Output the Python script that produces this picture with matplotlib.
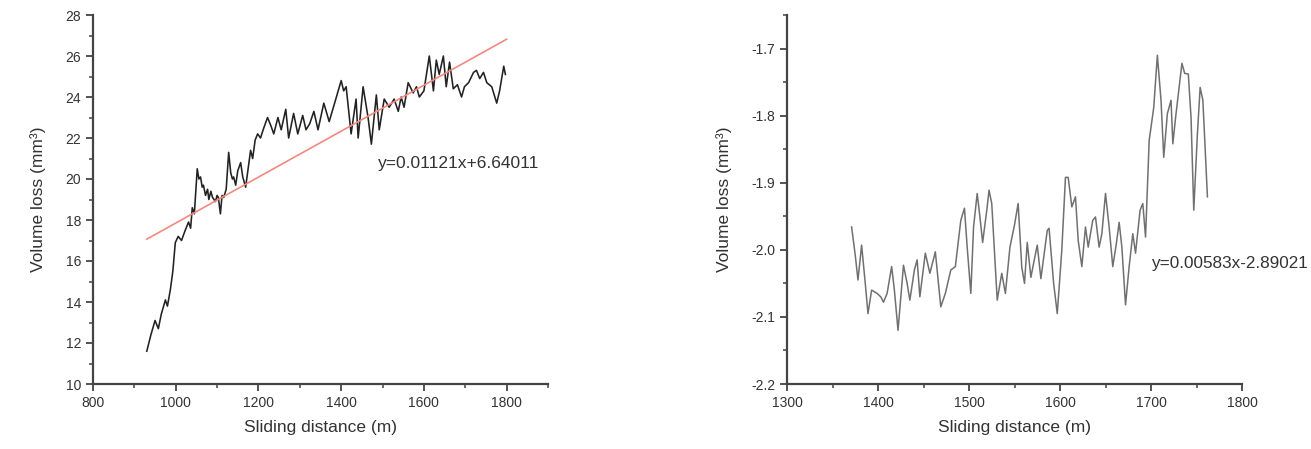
import matplotlib
matplotlib.use("Agg")
import matplotlib.pyplot as plt
from matplotlib.ticker import MultipleLocator
import numpy as np

plt.rcParams['font.family'] = ['Liberation Sans', 'DejaVu Sans']

# ---- Left panel data ----
left_x = [930, 940, 950, 958, 965, 975, 980, 987, 993, 999, 1006, 1014, 1023, 1031, 1036,
          1040, 1045, 1052, 1056, 1060, 1064, 1067, 1072, 1077, 1080, 1085, 1089, 1096, 1100,
          1103, 1108, 1112, 1116, 1122, 1128, 1133, 1137, 1140, 1145, 1150, 1157, 1162, 1169,
          1175, 1181, 1186, 1192, 1198, 1205, 1213, 1222, 1230, 1237, 1247, 1255, 1266, 1273,
          1285, 1295, 1307, 1315, 1324, 1334, 1344, 1358, 1371, 1387, 1400, 1406, 1412, 1424,
          1436, 1441, 1453, 1465, 1473, 1485, 1492, 1504, 1516, 1528, 1538, 1545, 1552, 1562,
          1574, 1582, 1589, 1600, 1613, 1623, 1630, 1637, 1647, 1654, 1662, 1671, 1681, 1691,
          1698, 1708, 1720, 1727, 1735, 1744, 1752, 1764, 1776, 1783, 1793, 1797]
left_y = [11.6, 12.4, 13.1, 12.7, 13.4, 14.1, 13.8, 14.6, 15.5, 16.9, 17.2, 17.0, 17.5, 17.9, 17.6,
          18.6, 18.3, 20.5, 20.0, 20.1, 19.6, 19.7, 19.2, 19.5, 19.0, 19.4, 19.1, 18.9, 19.2,
          19.1, 18.3, 19.2, 19.1, 19.5, 21.3, 20.3, 20.0, 20.1, 19.7, 20.4, 20.8, 20.1, 19.6,
          20.5, 21.4, 21.0, 21.9, 22.2, 22.0, 22.5, 23.0, 22.6, 22.2, 23.0, 22.4, 23.4, 22.0,
          23.2, 22.2, 23.1, 22.4, 22.7, 23.3, 22.4, 23.7, 22.8, 23.9, 24.8, 24.3, 24.5, 22.2,
          23.9, 22.0, 24.5, 23.0, 21.7, 24.1, 22.4, 23.9, 23.5, 23.9, 23.3, 24.0, 23.5, 24.7,
          24.2, 24.5, 24.0, 24.3, 26.0, 24.3, 25.8, 25.1, 26.0, 24.5, 25.7, 24.4, 24.6, 24.0,
          24.5, 24.7, 25.2, 25.3, 24.9, 25.2, 24.7, 24.5, 23.7, 24.3, 25.5, 25.1]
fit_slope = 0.01121
fit_intercept = 6.64011
fit_x = [930, 1800]
left_eq = "y=0.01121x+6.64011"

# ---- Right panel data ----
right_x = [1371, 1375, 1378, 1382, 1386, 1389, 1393, 1399, 1403, 1406, 1410, 1415, 1418, 1422,
           1428, 1432, 1435, 1440, 1443, 1446, 1452, 1457, 1463, 1469, 1474, 1480, 1485, 1491,
           1495, 1498, 1502, 1505, 1509, 1512, 1515, 1520, 1522, 1525, 1531, 1536, 1540, 1545,
           1550, 1554, 1558, 1561, 1564, 1568, 1571, 1575, 1579, 1586, 1588, 1593, 1597, 1602,
           1606, 1609, 1613, 1617, 1620, 1624, 1628, 1631, 1636, 1639, 1643, 1646, 1650, 1654,
           1658, 1662, 1665, 1668, 1672, 1676, 1680, 1683, 1688, 1691, 1694, 1698, 1703, 1707,
           1711, 1714, 1718, 1722, 1724, 1727, 1734, 1737, 1741, 1744, 1747, 1751, 1754, 1757,
           1762]
right_y = [-1.966, -2.008, -2.045, -1.993, -2.05, -2.095, -2.06, -2.065, -2.07, -2.078, -2.065,
           -2.025, -2.06, -2.12, -2.023, -2.05, -2.075, -2.03, -2.015, -2.07, -2.005, -2.035,
           -2.003, -2.085, -2.065, -2.03, -2.025, -1.956, -1.938, -1.996, -2.065, -1.966, -1.916,
           -1.951, -1.989, -1.936, -1.911, -1.931, -2.075, -2.035, -2.065, -1.996, -1.963, -1.931,
           -2.026, -2.05, -1.989, -2.041, -2.02, -1.993, -2.043, -1.971, -1.968, -2.05, -2.095,
           -2.0, -1.892, -1.892, -1.936, -1.921, -1.986, -2.025, -1.966, -1.996, -1.956, -1.951,
           -1.996, -1.976, -1.916, -1.966, -2.025, -1.99, -1.959, -1.996, -2.082, -2.025, -1.976,
           -2.005, -1.941, -1.931, -1.981, -1.837, -1.788, -1.71, -1.777, -1.862, -1.797, -1.777,
           -1.842, -1.803, -1.722, -1.737, -1.738, -1.803, -1.941, -1.827, -1.758, -1.777, -1.921]
right_eq = "y=0.00583x-2.89021"

xlabel = "Sliding distance (m)"
ylabel = "Volume loss (mm³)"

W, H = 1311, 449
fig = plt.figure(figsize=(W / 100, H / 100), dpi=100)

ax1 = fig.add_axes([93 / W, (H - 384) / H, 455 / W, 369 / H])
ax2 = fig.add_axes([787 / W, (H - 384) / H, 455 / W, 369 / H])

axis_col = '#444444'
text_col = '#333333'

def style(ax):
    for s in ['top', 'right']:
        ax.spines[s].set_visible(False)
    for s in ['left', 'bottom']:
        ax.spines[s].set_color(axis_col)
        ax.spines[s].set_linewidth(1.6)
    ax.tick_params(which='major', direction='out', length=5, width=1.3, colors=axis_col,
                   labelsize=10, labelcolor=text_col)
    ax.tick_params(which='minor', direction='out', length=3, width=1.1, colors=axis_col)
    ax.set_xlabel(xlabel, fontsize=12.5, color=text_col, labelpad=7)
    ax.set_ylabel(ylabel, fontsize=12.5, color=text_col, labelpad=14)

# Left
ax1.plot(left_x, left_y, color='#222222', lw=1.15, solid_joinstyle='round')
fx = np.array(fit_x, dtype=float)
ax1.plot(fx, fit_slope * fx + fit_intercept, color='#f08a80', lw=1.2)
ax1.set_xlim(800, 1900)
ax1.set_ylim(10, 28)
ax1.set_xticks([800, 1000, 1200, 1400, 1600, 1800])
ax1.xaxis.set_minor_locator(MultipleLocator(100))
ax1.set_yticks(list(range(10, 29, 2)))
ax1.yaxis.set_minor_locator(MultipleLocator(1))
style(ax1)
ax1.text(1488, 20.78, left_eq, fontsize=12.5, color=text_col, va='center', ha='left')

# Right
ax2.plot(right_x, right_y, color='#707070', lw=1.1, solid_joinstyle='round')
ax2.set_xlim(1300, 1800)
ax2.set_ylim(-2.2, -1.65)
ax2.set_xticks([1300, 1400, 1500, 1600, 1700, 1800])
ax2.xaxis.set_minor_locator(MultipleLocator(50))
ax2.set_yticks([-2.2, -2.1, -2.0, -1.9, -1.8, -1.7])
ax2.set_yticklabels(['-2.2', '-2.1', '-2.0', '-1.9', '-1.8', '-1.7'])
ax2.yaxis.set_minor_locator(MultipleLocator(0.05))
style(ax2)
ax2.text(1700, -2.02, right_eq, fontsize=12.3, color=text_col, va='center', ha='left',
         clip_on=False)

fig.savefig("out.png", dpi=100, facecolor='white')
